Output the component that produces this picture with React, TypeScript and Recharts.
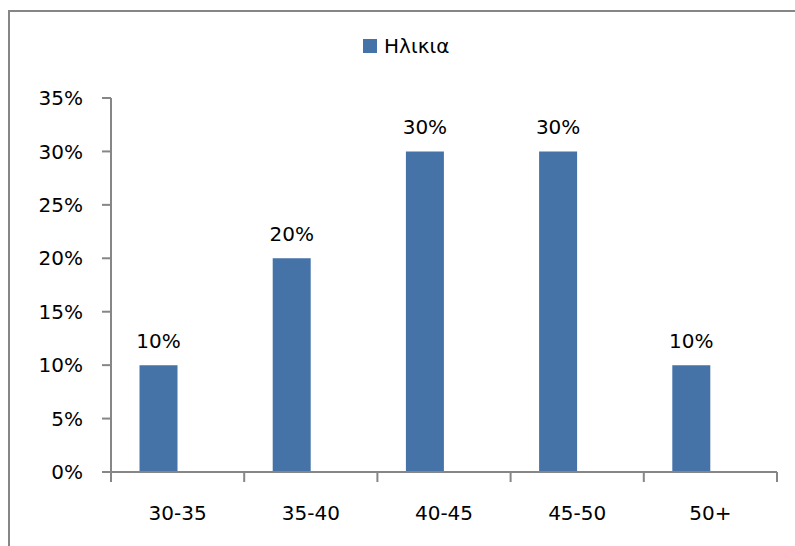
import React from 'react';
import { BarChart, Bar, XAxis, YAxis, LabelList, Legend } from 'recharts';

const categories = ['30-35', '35-40', '40-45', '45-50', '50+'];
const ageShare = [10, 20, 30, 30, 10];
const yTicks = [0, 5, 10, 15, 20, 25, 30, 35];
const seriesName = 'Ηλικια';

const data = categories.map((c, i) => ({ name: c, age: ageShare[i] }));

const FONT = '"DejaVu Sans", sans-serif';
const AXIS = '#868686';
const BAR = '#4572A7';

const W = 795;
const H = 546;
const margin = { top: 98, right: 18, left: 11, bottom: 14 };
const Y_W = 100;
const X_H = 60;
const band = (W - margin.left - margin.right - Y_W) / categories.length;

// category label in the middle, tick marks on the category boundaries (Excel style)
const XTick = (props: any) => {
  const { x, y, payload, index } = props;
  const last = index === categories.length - 1;
  return (
    <g>
      <line x1={x - band / 2} x2={x - band / 2} y1={y} y2={y + 10} stroke={AXIS} strokeWidth={2} />
      {last && <line x1={x + band / 2} x2={x + band / 2} y1={y} y2={y + 10} stroke={AXIS} strokeWidth={2} />}
      <text x={x} y={y + 41} textAnchor="middle" dominantBaseline="central" fill="#000" fontSize={20} fontFamily={FONT}>
        {payload.value}
      </text>
    </g>
  );
};

const LegendBox = () => (
  <div style={{ display: 'flex', alignItems: 'center', fontFamily: FONT, fontSize: 20, color: '#000' }}>
    <span style={{ display: 'inline-block', width: 14, height: 14, background: BAR, marginRight: 7 }} />
    {seriesName}
  </div>
);

export default function App() {
  return (
    <div style={{ position: 'absolute', left: 0, top: 0, width: W, height: H, overflow: 'hidden', background: '#fff' }}>
      <div
        style={{
          position: 'absolute',
          left: 8,
          top: 10,
          width: W - 8,
          height: H - 10,
          borderLeft: `2px solid ${AXIS}`,
          borderTop: `2px solid ${AXIS}`,
          boxSizing: 'border-box',
        }}
      />
      <div style={{ position: 'absolute', left: 0, top: 0 }}>
        <BarChart width={W} height={H} data={data} margin={margin} barCategoryGap="21.4%" barGap={0}>
          <Legend
            layout="horizontal"
            verticalAlign="middle"
            content={<LegendBox />}
            wrapperStyle={{ top: 34, left: 363, width: 'auto' }}
          />
          <XAxis
            dataKey="name"
            height={X_H}
            axisLine={{ stroke: AXIS, strokeWidth: 2 }}
            tickLine={false}
            tickSize={0}
            tickMargin={0}
            tick={<XTick />}
            interval={0}
          />
          <YAxis
            width={Y_W}
            domain={[0, 35]}
            ticks={yTicks}
            tickFormatter={(v: number) => `${v}%`}
            axisLine={{ stroke: AXIS, strokeWidth: 2 }}
            tickLine={{ stroke: AXIS, strokeWidth: 2 }}
            tickSize={9}
            tickMargin={19}
            tick={{ fill: '#000', fontSize: 20, fontFamily: FONT }}
          />
          <Bar dataKey="age" name={seriesName} fill={BAR} isAnimationActive={false}>
            <LabelList
              dataKey="age"
              position="top"
              offset={17}
              formatter={(v: any) => `${v}%`}
              style={{ fill: '#000', fontSize: 20, fontFamily: FONT }}
            />
          </Bar>
          <Bar dataKey="spacer" legendType="none" fill={BAR} isAnimationActive={false} />
        </BarChart>
      </div>
    </div>
  );
}
